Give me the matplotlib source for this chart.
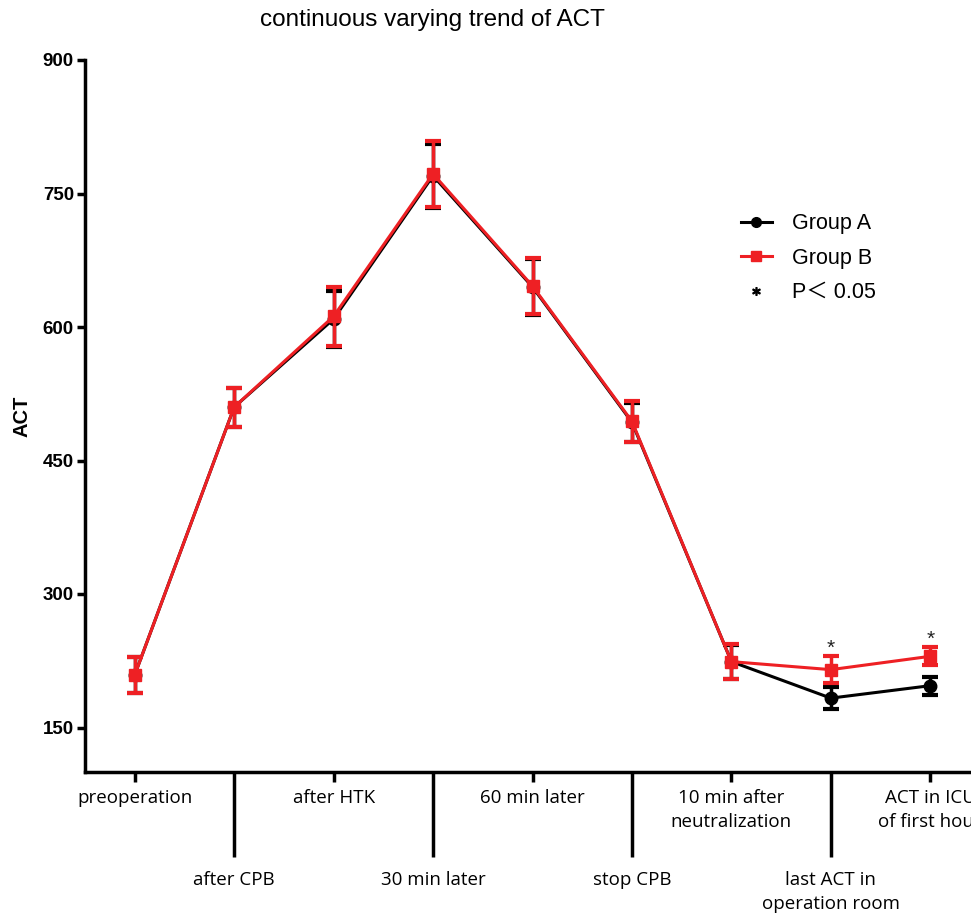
import matplotlib
matplotlib.use("Agg")
import matplotlib.pyplot as plt
from matplotlib.lines import Line2D
import numpy as np

categories = ["preoperation", "after CPB", "after HTK", "30 min later", "60 min later",
              "stop CPB", "10 min after\nneutralization", "last ACT in\noperation room",
              "ACT in ICU\nof first hour"]
group_a_mean = [209, 510, 609, 770, 645, 493, 224, 183, 197]
group_a_err = [20, 22, 32, 36, 31, 22, 19, 12, 10]
group_b_mean = [209, 510, 612, 772, 646, 494, 224, 215, 230]
group_b_err = [20, 22, 33, 37, 31, 23, 20, 15, 10]
significant = [7, 8]
y_ticks = [150, 300, 450, 600, 750, 900]

W, H = 971, 914
fig = plt.figure(figsize=(W / 100, H / 100), dpi=100)
ax = fig.add_axes([85 / W, (H - 772) / H, (980 - 85) / W, (772 - 60) / H])

x = np.arange(len(categories))
red = "#ee2024"
ax.errorbar(x, group_a_mean, yerr=group_a_err, color="black", marker="o", markersize=9,
            lw=2.2, elinewidth=2.5, capsize=5.5, capthick=3, zorder=2)
ax.errorbar(x, group_b_mean, yerr=group_b_err, color=red, marker="s", markersize=9,
            lw=2.2, elinewidth=2.5, capsize=5.5, capthick=3, zorder=3)

for i in significant:
    ax.annotate("*", (x[i], group_b_mean[i] + group_b_err[i]), xytext=(0, -1),
                textcoords="offset points", ha="center", va="bottom", fontsize=15,
                family="Liberation Sans", color="#222222")

ax.set_xlim(-0.5, 8.5)
ax.set_ylim(100, 900)
ax.set_yticks(y_ticks)
ax.set_yticklabels([str(v) for v in y_ticks], fontweight="bold", family="Liberation Sans",
                   fontsize=13.5)
ax.set_ylabel("ACT", fontweight="bold", family="Liberation Sans", fontsize=14.5, labelpad=8)

even = x[::2]
odd = x[1::2]
ax.set_xticks(even)
ax.set_xticklabels([categories[i] for i in even], family="Open Sans", fontsize=13.5)
ax.set_xticks(odd, minor=True)
ax.set_xticklabels([categories[i] for i in odd], minor=True, family="Open Sans", fontsize=13.5)
ax.tick_params(axis="x", which="major", length=7, width=2.5, pad=5)
ax.tick_params(axis="x", which="minor", length=61, width=2.5, pad=10)
ax.tick_params(axis="y", length=6, width=2.5, pad=2)
for lab in ax.get_xticklabels() + ax.get_xticklabels(minor=True):
    lab.set_multialignment("center")
    lab.set_linespacing(1.45)

for s in ["top", "right"]:
    ax.spines[s].set_visible(False)
for s in ["left", "bottom"]:
    ax.spines[s].set_linewidth(2.5)

fig.text(432 / W, 1 - 20 / H, "continuous varying trend of ACT", ha="center", va="center",
         family="Liberation Sans", fontsize=17.5)

handles = [
    Line2D([], [], color="black", marker="o", markersize=7, lw=2.2),
    Line2D([], [], color=red, marker="s", markersize=7, lw=2.2),
    Line2D([], [], linestyle="none", marker="$*$", color="black", markersize=5.5),
]
labels = ["Group A", "Group B", "P＜ 0.05"]
fig.legend(handles, labels, loc="upper left", bbox_to_anchor=(722 / W, 1 - 194 / H),
           frameon=False, handlelength=1.4, handletextpad=0.95, labelspacing=0.62,
           prop={"family": ["Liberation Sans", "Noto Sans CJK SC"], "size": 15.5})

fig.savefig("out.png", dpi=100)
